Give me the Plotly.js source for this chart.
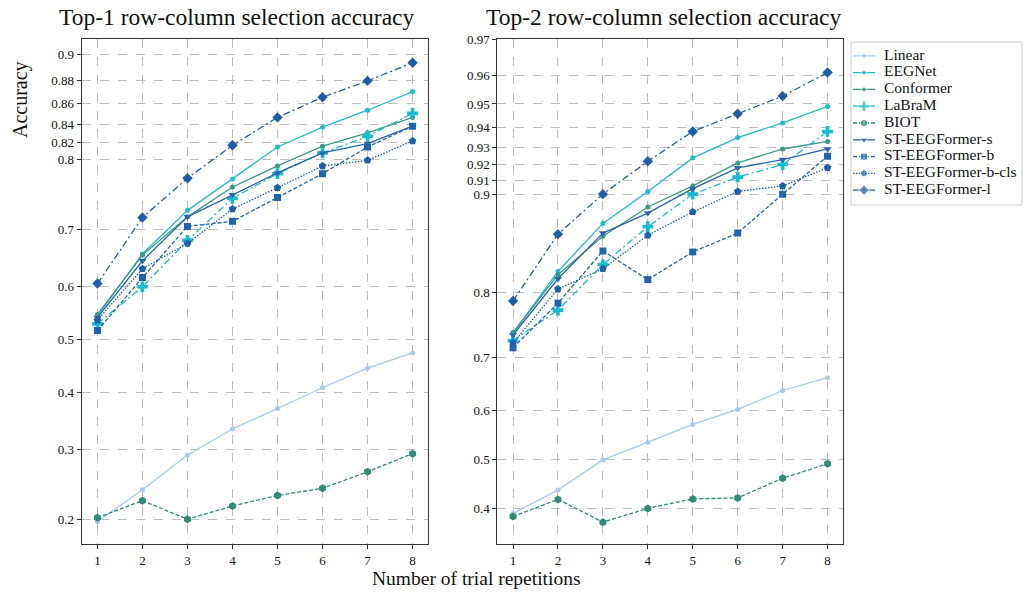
<!DOCTYPE html>
<html>
<head>
<meta charset="utf-8">
<script src="https://cdn.plot.ly/plotly-3.0.1.min.js"></script>
<style>
  html, body { margin: 0; padding: 0; background: #fff; }
  #chart { width: 1024px; height: 592px; }
</style>
</head>
<body>
<div id="chart"></div>
<script>
// Number of trial repetitions
const repetitions = [1, 2, 3, 4, 5, 6, 7, 8];

const modelNames = ["Linear", "EEGNet", "Conformer", "LaBraM", "BIOT",
  "ST-EEGFormer-s", "ST-EEGFormer-b", "ST-EEGFormer-b-cls", "ST-EEGFormer-l"];

// Top-1 row-column selection accuracy
const top1Linear    = [0.197, 0.239, 0.291, 0.334, 0.370, 0.408, 0.445, 0.474];
const top1EEGNet    = [0.545, 0.659, 0.730, 0.775, 0.815, 0.837, 0.854, 0.871];
const top1Conformer = [0.548, 0.657, 0.720, 0.764, 0.792, 0.816, 0.831, 0.847];
const top1LaBraM    = [0.530, 0.600, 0.682, 0.748, 0.782, 0.808, 0.827, 0.851];
const top1BIOT      = [0.202, 0.224, 0.200, 0.217, 0.231, 0.241, 0.265, 0.293];
const top1STs       = [0.542, 0.647, 0.720, 0.753, 0.783, 0.808, 0.819, 0.838];
const top1STb       = [0.517, 0.617, 0.705, 0.713, 0.749, 0.782, 0.815, 0.838];
const top1STbcls    = [0.537, 0.633, 0.677, 0.732, 0.763, 0.792, 0.799, 0.822];
const top1STl       = [0.606, 0.719, 0.776, 0.817, 0.847, 0.866, 0.880, 0.894];

// Top-2 row-column selection accuracy
const top2Linear    = [0.390, 0.437, 0.499, 0.535, 0.572, 0.602, 0.639, 0.663];
const top2EEGNet    = [0.740, 0.826, 0.876, 0.902, 0.924, 0.935, 0.942, 0.949];
const top2Conformer = [0.741, 0.822, 0.864, 0.890, 0.906, 0.921, 0.929, 0.933];
const top2LaBraM    = [0.728, 0.775, 0.834, 0.873, 0.900, 0.912, 0.920, 0.938];
const top2BIOT      = [0.384, 0.418, 0.373, 0.400, 0.419, 0.421, 0.461, 0.491];
const top2STs       = [0.737, 0.817, 0.867, 0.885, 0.904, 0.918, 0.923, 0.929];
const top2STb       = [0.716, 0.785, 0.849, 0.816, 0.848, 0.867, 0.900, 0.925];
const top2STbcls    = [0.724, 0.804, 0.829, 0.865, 0.886, 0.902, 0.906, 0.918];
const top2STl       = [0.788, 0.866, 0.900, 0.922, 0.938, 0.946, 0.953, 0.961];

// Tick values for each panel
const top1Ticks = [0.2, 0.3, 0.4, 0.5, 0.6, 0.7, 0.8, 0.82, 0.84, 0.86, 0.88, 0.9];
const top2Ticks = [0.4, 0.5, 0.6, 0.7, 0.8, 0.9, 0.91, 0.92, 0.93, 0.94, 0.95, 0.96, 0.97];

// Line style per model
const styles = [
  { color: "#a3cbf5", dash: "solid",            symbol: "circle",        size: 5 },
  { color: "#1fbccf", dash: "solid",            symbol: "circle",        size: 5 },
  { color: "#3a9a83", dash: "solid",            symbol: "circle",        size: 5 },
  { color: "#17bcd3", dash: "7px,3px,2px,3px",  symbol: "cross",         size: 9 },
  { color: "#2f8c78", dash: "4px,2px",          symbol: "hexagon",       size: 8 },
  { color: "#2a64ad", dash: "solid",            symbol: "triangle-down", size: 7 },
  { color: "#1f64ae", dash: "4px,2px",          symbol: "square",        size: 7 },
  { color: "#1d60aa", dash: "1.5px,1.5px",      symbol: "pentagon",      size: 8 },
  { color: "#1c5ea8", dash: "7px,3px,2px,3px",  symbol: "diamond",       size: 8 }
];

const top1Series = [top1Linear, top1EEGNet, top1Conformer, top1LaBraM, top1BIOT, top1STs, top1STb, top1STbcls, top1STl];
const top2Series = [top2Linear, top2EEGNet, top2Conformer, top2LaBraM, top2BIOT, top2STs, top2STb, top2STbcls, top2STl];

// Accuracies are shown on a logit scale
const logit = p => Math.log(p / (1 - p));
const fmt = v => String(v);

const traces = [];
function addPanel(series, xa, ya) {
  series.forEach((vals, i) => {
    const s = styles[i];
    traces.push({
      x: repetitions,
      y: vals.map(logit),
      customdata: vals,
      hovertemplate: "%{customdata}<extra>" + modelNames[i] + "</extra>",
      name: modelNames[i],
      showlegend: false,
      xaxis: xa, yaxis: ya,
      mode: "lines+markers",
      line: { color: s.color, width: 1.3, dash: s.dash },
      marker: { color: s.color, symbol: s.symbol, size: s.size }
    });
  });
}
addPanel(top1Series, "x", "y");
addPanel(top2Series, "x2", "y2");

const serif = "Liberation Serif";

// Key panel: one sample line with its marker and name per model
const keyRows = modelNames.length;
modelNames.forEach((name, i) => {
  const s = styles[i];
  const row = i + 0.5;
  traces.push({
    x: [2, 13, 24], y: [row, row, row],
    xaxis: "x3", yaxis: "y3", showlegend: false, hoverinfo: "skip",
    mode: "lines+markers", cliponaxis: false,
    line: { color: s.color, width: 1.3, dash: s.dash },
    marker: { color: s.color, symbol: s.symbol, size: [0, s.size, 0] }
  });
  traces.push({
    x: [33], y: [row], text: [name],
    xaxis: "x3", yaxis: "y3", showlegend: false, hoverinfo: "skip",
    mode: "text", textposition: "middle right", cliponaxis: false,
    textfont: { family: serif, size: 15.5, color: "#111" }
  });
});

const gridStyle = {
  showgrid: true, gridcolor: "#bdbdbd", griddash: "dash", gridwidth: 1,
  showline: true, linecolor: "#333", linewidth: 1, mirror: true,
  ticks: "outside", ticklen: 4, tickcolor: "#333",
  tickfont: { family: serif, size: 13, color: "#111" },
  zeroline: false
};

const xCommon = Object.assign({}, gridStyle, {
  range: [0.65, 8.35], tickmode: "array", tickvals: repetitions,
  ticktext: repetitions.map(String)
});

const hidden = { visible: false, showgrid: false, zeroline: false, fixedrange: true };

const layout = {
  width: 1024, height: 592,
  margin: { l: 0, r: 0, t: 0, b: 0 },
  paper_bgcolor: "#fff", plot_bgcolor: "#fff",
  font: { family: serif, color: "#111" },
  showlegend: false,
  xaxis:  Object.assign({}, xCommon, { domain: [81.7 / 1024, 428.3 / 1024], anchor: "y" }),
  xaxis2: Object.assign({}, xCommon, { domain: [497.3 / 1024, 843.3 / 1024], anchor: "y2" }),
  yaxis: Object.assign({}, gridStyle, {
    domain: [47.7 / 592, 552.7 / 592], anchor: "x",
    range: [-1.579, 2.313],
    tickmode: "array", tickvals: top1Ticks.map(logit), ticktext: top1Ticks.map(fmt)
  }),
  yaxis2: Object.assign({}, gridStyle, {
    domain: [47.7 / 592, 552.7 / 592], anchor: "x2",
    range: [-0.703, 3.48],
    tickmode: "array", tickvals: top2Ticks.map(logit), ticktext: top2Ticks.map(fmt)
  }),
  // key panel axes
  xaxis3: Object.assign({}, hidden, { domain: [851 / 1024, 1022 / 1024], range: [0, 171], anchor: "y3" }),
  yaxis3: Object.assign({}, hidden, { domain: [1 - 198.6 / 592, 1 - 47.4 / 592], range: [keyRows, 0], anchor: "x3" }),
  shapes: [
    { type: "rect", xref: "paper", yref: "paper", layer: "below",
      x0: 851 / 1024, x1: 1022 / 1024, y0: 1 - 205 / 592, y1: 1 - 42 / 592,
      line: { color: "#d0d0d0", width: 1 }, fillcolor: "#fff" }
  ],
  annotations: [
    { text: "Top-1 row-column selection accuracy", xref: "paper", yref: "paper",
      x: 237 / 1024, y: 1 - 17 / 592, xanchor: "center", yanchor: "middle", showarrow: false,
      font: { family: serif, size: 23.5, color: "#111" } },
    { text: "Top-2 row-column selection accuracy", xref: "paper", yref: "paper",
      x: 664 / 1024, y: 1 - 17 / 592, xanchor: "center", yanchor: "middle", showarrow: false,
      font: { family: serif, size: 23.5, color: "#111" } },
    { text: "Number of trial repetitions", xref: "paper", yref: "paper",
      x: 476 / 1024, y: 1 - 578 / 592, xanchor: "center", yanchor: "middle", showarrow: false,
      font: { family: serif, size: 19.5, color: "#111" } },
    { text: "Accuracy", xref: "paper", yref: "paper", textangle: -90,
      x: 21 / 1024, y: 1 - 100 / 592, xanchor: "center", yanchor: "middle", showarrow: false,
      font: { family: serif, size: 20, color: "#111" } }
  ]
};

Plotly.newPlot("chart", traces, layout, { displayModeBar: false, staticPlot: true });
</script>
</body>
</html>
